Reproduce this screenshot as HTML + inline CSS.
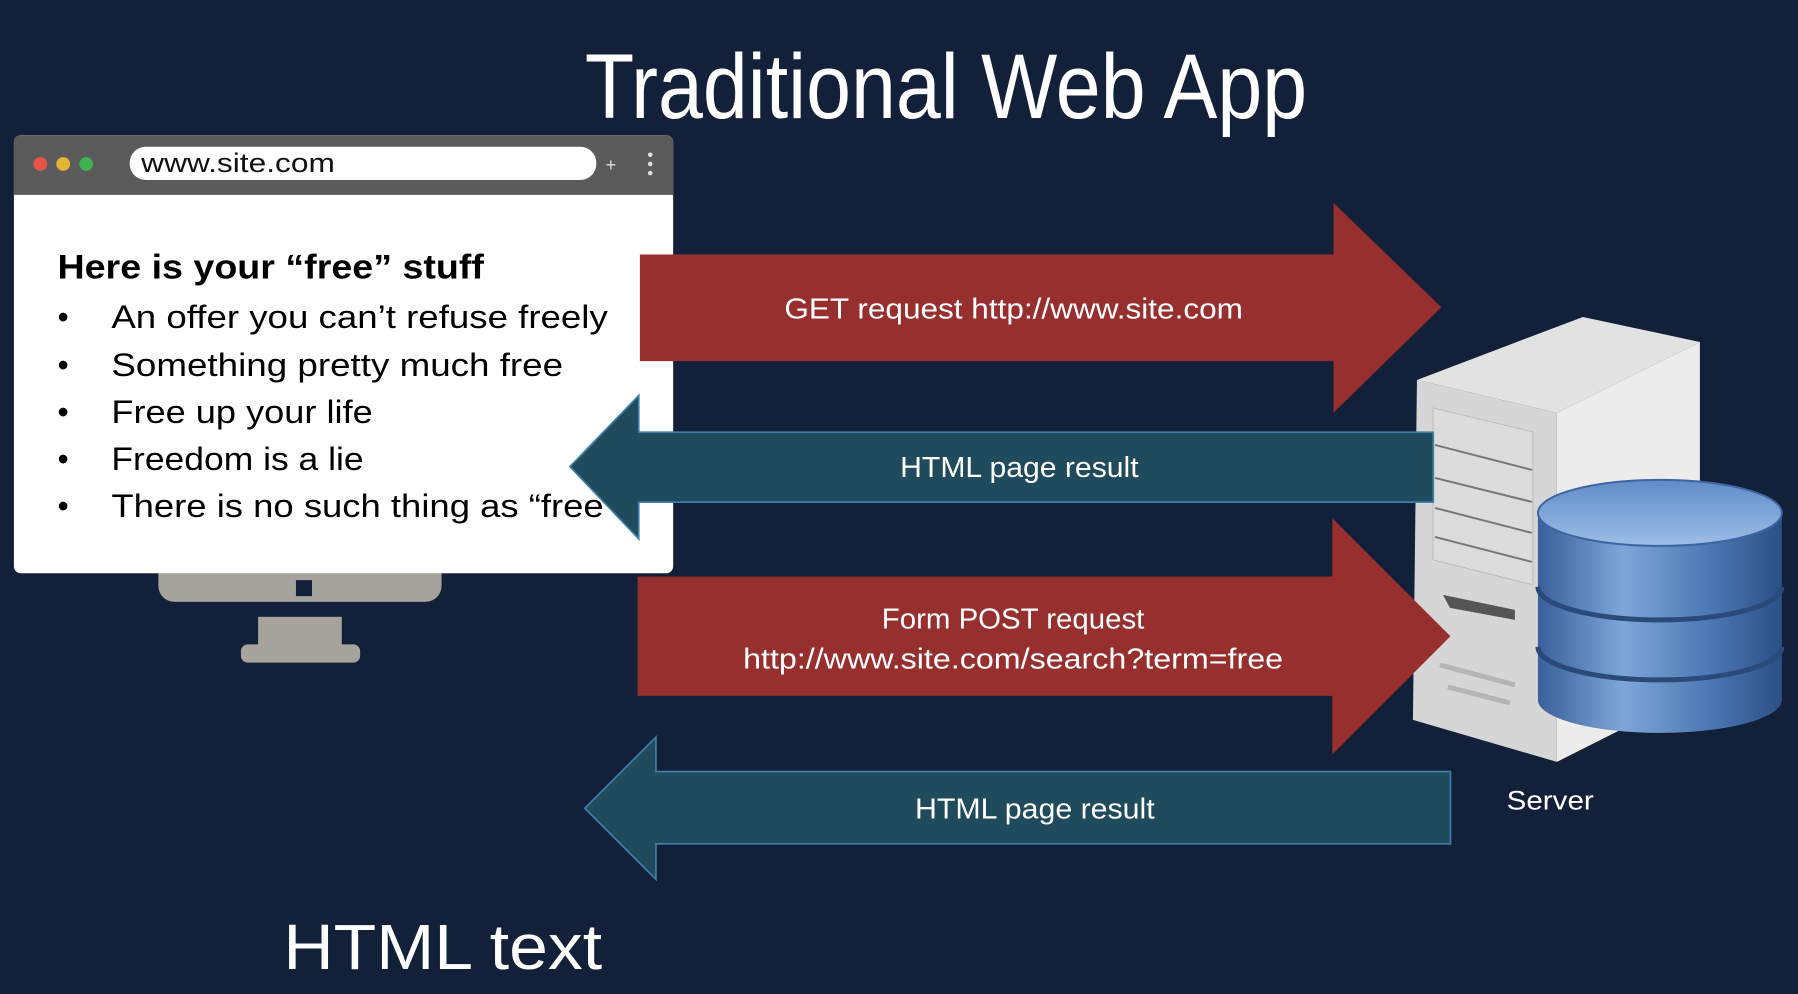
<!DOCTYPE html>
<html><head><meta charset="utf-8"><style>
html,body{margin:0;padding:0;background:#13203a;}
svg{display:block;}
text{font-family:"Liberation Sans",sans-serif;}
</style></head><body>
<svg width="1798" height="994" viewBox="0 0 1568 867" xmlns="http://www.w3.org/2000/svg">
<defs>
<linearGradient id="db" x1="0" x2="1" y1="0" y2="0">
<stop offset="0" stop-color="#3a5f9a"/><stop offset="0.35" stop-color="#7fa6d8"/><stop offset="0.7" stop-color="#4d78b4"/><stop offset="1" stop-color="#2c4f86"/>
</linearGradient>
<linearGradient id="dbtop" x1="0" x2="0" y1="0" y2="1">
<stop offset="0" stop-color="#5f8cc8"/><stop offset="1" stop-color="#9dbde6"/>
</linearGradient>
</defs>
<rect width="1568" height="867" fill="#13203a"/>
<text x="510" y="103" font-size="80" fill="#fff" textLength="630" lengthAdjust="spacingAndGlyphs">Traditional Web App</text>

<!-- monitor stand -->
<rect x="138" y="480" width="247" height="45" rx="14" fill="#a6a39c"/>
<rect x="258" y="506" width="14" height="14" fill="#13203a"/>
<rect x="225" y="538" width="73" height="30" fill="#a6a39c"/>
<rect x="210" y="562" width="104" height="16" rx="6" fill="#a6a39c"/>

<!-- browser -->
<rect x="12" y="118" width="575" height="382" rx="6" fill="#fff"/>
<path d="M12 124 a6 6 0 0 1 6 -6 h563 a6 6 0 0 1 6 6 v46 h-575z" fill="#5b5b5b"/>
<circle cx="35" cy="143" r="6" fill="#e8544a"/>
<circle cx="55" cy="143" r="6" fill="#e6b532"/>
<circle cx="75" cy="143" r="6" fill="#3fb34f"/>
<rect x="113" y="128" width="407" height="29" rx="14" fill="#fff"/>
<text x="123" y="150" font-size="23" fill="#111" textLength="169" lengthAdjust="spacingAndGlyphs">www.site.com</text>
<text x="528" y="149" font-size="16" fill="#ddd">+</text>
<circle cx="567" cy="135" r="2" fill="#ddd"/><circle cx="567" cy="143" r="2" fill="#ddd"/><circle cx="567" cy="151" r="2" fill="#ddd"/>

<text x="50" y="243" font-size="30" font-weight="bold" fill="#000" textLength="372" lengthAdjust="spacingAndGlyphs">Here is your “free” stuff</text>
<g font-size="28" fill="#000">
<text x="50" y="286">•</text><text x="97" y="286" textLength="433" lengthAdjust="spacingAndGlyphs">An offer you can’t refuse freely</text>
<text x="50" y="328">•</text><text x="97" y="328" textLength="394" lengthAdjust="spacingAndGlyphs">Something pretty much free</text>
<text x="50" y="369">•</text><text x="97" y="369" textLength="228" lengthAdjust="spacingAndGlyphs">Free up your life</text>
<text x="50" y="410">•</text><text x="97" y="410" textLength="220" lengthAdjust="spacingAndGlyphs">Freedom is a lie</text>
<text x="50" y="451">•</text><text x="97" y="451" textLength="440" lengthAdjust="spacingAndGlyphs">There is no such thing as “free”</text>
</g>

<!-- server -->
<g transform="scale(0.8721)">
<polygon points="1417,380 1583,317 1700,342 1557,413" fill="#e2e2e2"/>
<polygon points="1557,413 1700,342 1700,690 1557,762" fill="#ececec"/>
<polygon points="1417,380 1557,413 1557,762 1413,720" fill="#d6d6d6"/>
<polygon points="1433,408 1533,432 1533,585 1433,560" fill="#dcdcdc" stroke="#bbb"/>
<g stroke="#777" stroke-width="2">
<line x1="1435" y1="445" x2="1532" y2="470"/><line x1="1435" y1="478" x2="1532" y2="502"/><line x1="1435" y1="508" x2="1532" y2="533"/><line x1="1435" y1="537" x2="1532" y2="562"/>
</g>
<polygon points="1443,595 1515,610 1515,620 1450,608" fill="#555"/>
<g stroke="#b5b5b5" stroke-width="5"><line x1="1440" y1="665" x2="1515" y2="685"/><line x1="1448" y1="687" x2="1510" y2="703"/></g>
<rect x="1538" y="513" width="244" height="187" fill="url(#db)"/>
<ellipse cx="1660" cy="700" rx="122" ry="33" fill="url(#db)"/>
<path d="M1538 587 a122 33 0 0 0 244 0" fill="none" stroke="#2a4a7a" stroke-width="5"/>
<path d="M1538 647 a122 33 0 0 0 244 0" fill="none" stroke="#2a4a7a" stroke-width="5"/>
<ellipse cx="1660" cy="513" rx="122" ry="33" fill="url(#dbtop)" stroke="#3d66a0" stroke-width="2"/>
</g>
<text x="1314" y="706" font-size="23" fill="#fff" textLength="76" lengthAdjust="spacingAndGlyphs">Server</text>

<!-- arrows -->
<polygon points="558,222 1163,222 1163,177 1257,268 1163,360 1163,315 558,315" fill="#972f2f"/>
<text x="684" y="278" font-size="25" fill="#fff" textLength="400" lengthAdjust="spacingAndGlyphs">GET request http://www.site.com</text>

<polygon points="1250,377 557,377 557,345 497,407 557,470 557,438 1250,438" fill="#1f4b5c" stroke="#3f7ea6" stroke-width="1.5"/>
<text x="785" y="416" font-size="25" fill="#fff" textLength="208" lengthAdjust="spacingAndGlyphs">HTML page result</text>

<polygon points="556,503 1162,503 1162,452 1265,555 1162,658 1162,607 556,607" fill="#972f2f"/>
<text x="769" y="548" font-size="25" fill="#fff" textLength="229" lengthAdjust="spacingAndGlyphs">Form POST request</text>
<text x="648" y="583" font-size="25" fill="#fff" textLength="471" lengthAdjust="spacingAndGlyphs">http://www.site.com/search?term=free</text>

<polygon points="1265,673 572,673 572,643 510,705 572,767 572,736 1265,736" fill="#1f4b5c" stroke="#3f7ea6" stroke-width="1.5"/>
<text x="798" y="714" font-size="25" fill="#fff" textLength="209" lengthAdjust="spacingAndGlyphs">HTML page result</text>

<text x="247" y="845" font-size="56" fill="#fff" textLength="278" lengthAdjust="spacingAndGlyphs">HTML text</text>
</svg>
</body></html>
